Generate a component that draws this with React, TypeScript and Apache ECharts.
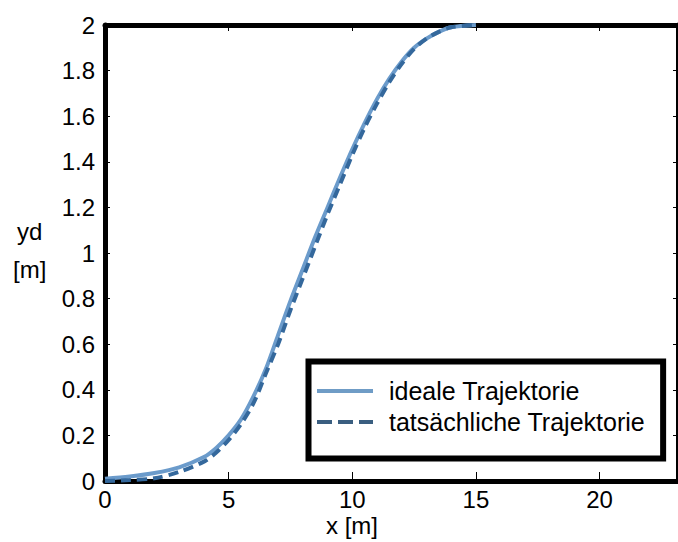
import { useEffect, useRef } from "react";
import * as echarts from "echarts";

// x positions [m] shared by both trajectories
const xValues = [0, 1, 2, 3, 4, 4.5, 5, 5.5, 6, 6.5, 7, 7.5, 8, 8.5, 9, 9.5, 10, 10.5, 11, 11.5, 12, 12.5, 13, 13.5, 14, 15];
// planned lateral offset yd [m]
const idealY = [0.01, 0.02, 0.035, 0.06, 0.105, 0.145, 0.2, 0.27, 0.37, 0.49, 0.64, 0.79, 0.93, 1.07, 1.2, 1.33, 1.455, 1.57, 1.675, 1.765, 1.84, 1.9, 1.94, 1.97, 1.99, 2.0];
// measured lateral offset yd [m]
const actualY = [0.0, 0.004, 0.012, 0.04, 0.085, 0.125, 0.18, 0.25, 0.34, 0.47, 0.6, 0.75, 0.89, 1.03, 1.17, 1.3, 1.43, 1.55, 1.655, 1.75, 1.83, 1.895, 1.94, 1.97, 1.99, 2.0];

const seriesNames = ["ideale Trajektorie", "tatsächliche Trajektorie"];
const xTitle = "x [m]";
const yTitle = ["yd", "[m]"];

const FONT = "Liberation Sans, Arial, sans-serif";
const FS = 24;
const LEGEND_FS = 25;

export default function App() {
  const ref = useRef<HTMLDivElement>(null);

  useEffect(() => {
    if (!ref.current) return;
    const chart = echarts.init(ref.current, undefined, { renderer: "svg" });

    const gridLeft = 105;
    const gridRight = -4;
    const plotWidth = 678 - gridRight - gridLeft;
    const xMax = plotWidth / 24.9;

    const axisLine = { show: true, onZero: false, lineStyle: { color: "#000", width: 5 } };
    const tick = (len: number) => ({
      show: true,
      inside: true,
      length: len,
      lineStyle: { color: "#000", width: 1 },
    });
    const hiddenSymbol = { color: "rgba(0,0,0,0)", borderWidth: 0, opacity: 0 };

    chart.setOption({
      animation: false,
      backgroundColor: "#fff",
      textStyle: { fontFamily: FONT },
      grid: { left: gridLeft, right: gridRight, top: 25, bottom: 61, containLabel: false },
      xAxis: [
        {
          type: "value",
          position: "bottom",
          min: 0,
          max: xMax,
          interval: 5,
          axisLine,
          axisTick: tick(9),
          splitLine: { show: false },
          axisLabel: {
            fontSize: FS,
            fontFamily: FONT,
            color: "#000",
            margin: 6,
            showMaxLabel: false,
          },
        },
        {
          type: "value",
          position: "top",
          min: 0,
          max: xMax,
          interval: 5,
          axisLine,
          axisTick: tick(6),
          splitLine: { show: false },
          axisLabel: { show: false },
        },
      ],
      yAxis: [
        {
          type: "value",
          position: "left",
          min: 0,
          max: 2,
          interval: 0.2,
          axisLine,
          axisTick: tick(5),
          splitLine: { show: false },
          axisLabel: { fontSize: FS, fontFamily: FONT, color: "#000", margin: 10 },
        },
        {
          type: "value",
          position: "right",
          min: 0,
          max: 2,
          interval: 0.2,
          axisLine,
          axisTick: tick(5),
          splitLine: { show: false },
          axisLabel: { show: false },
        },
      ],
      legend: {
        orient: "vertical",
        left: 308.5,
        top: 361.5,
        padding: [17, 18, 24, 6.5],
        itemWidth: 56,
        itemHeight: 14,
        itemGap: 6,
        borderColor: "#000",
        borderWidth: 6,
        backgroundColor: "#fff",
        textStyle: {
          fontSize: LEGEND_FS,
          fontFamily: FONT,
          color: "#000",
          lineHeight: 25,
          padding: [0, 0, 0, 11],
        },
        data: [
          {
            name: seriesNames[0],
            itemStyle: hiddenSymbol,
            lineStyle: { color: "#6f9cc6", width: 4, type: "solid" },
          },
          {
            name: seriesNames[1],
            itemStyle: hiddenSymbol,
            lineStyle: { color: "#3a5e80", width: 4, type: [15, 6] },
          },
        ],
      },
      series: [
        {
          name: seriesNames[0],
          type: "line",
          xAxisIndex: 0,
          yAxisIndex: 0,
          data: xValues.map((x, i) => [x, idealY[i]]),
          smooth: 0.3,
          symbol: "none",
          lineStyle: { color: "#6b9bcb", width: 4 },
          itemStyle: { color: "#6b9bcb" },
        },
        {
          name: seriesNames[1],
          type: "line",
          xAxisIndex: 0,
          yAxisIndex: 0,
          data: xValues.map((x, i) => [x, actualY[i]]),
          smooth: 0.3,
          symbol: "none",
          lineStyle: { color: "#34689c", width: 4, type: [10, 6] },
          itemStyle: { color: "#34689c" },
        },
      ],
      graphic: [
        {
          type: "text",
          left: 17,
          top: 219,
          style: { text: yTitle[0], font: `${FS}px ${FONT}`, fill: "#000" },
        },
        {
          type: "text",
          left: 13,
          top: 257,
          style: { text: yTitle[1], font: `${FS}px ${FONT}`, fill: "#000" },
        },
        {
          type: "text",
          left: 326,
          top: 513,
          style: { text: xTitle, font: `${FS}px ${FONT}`, fill: "#000" },
        },
      ],
    });

    return () => chart.dispose();
  }, []);

  return (
    <div
      ref={ref}
      style={{ position: "absolute", left: 0, top: 0, width: 678, height: 542 }}
    />
  );
}
